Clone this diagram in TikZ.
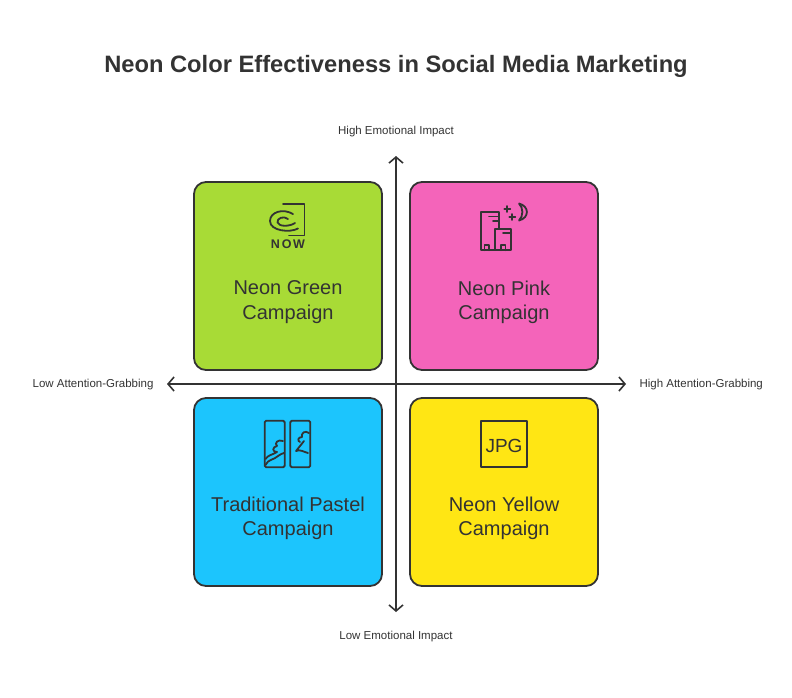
\documentclass[tikz,border=0pt]{standalone}
\usepackage{fontspec}
\setmainfont{Liberation Sans}
\usepackage{tikz}
\usetikzlibrary{positioning}
\usetikzlibrary{arrows.meta}
\definecolor{linec}{HTML}{333333}
\definecolor{textc}{HTML}{333333}
\definecolor{neongreen}{HTML}{A8DB36}
\definecolor{neonpink}{HTML}{F464BA}
\definecolor{pastelblue}{HTML}{1CC5FD}
\definecolor{neonyellow}{HTML}{FFE614}

\begin{document}
\begin{tikzpicture}[x=1pt,y=-1pt,
    quad/.style={draw=linec, line width=1.8pt, rounded corners=12pt, minimum width=188pt, minimum height=188pt},
    lbl/.style={font=\fontsize{20}{24.3}\selectfont, text=textc, align=center},
    axlbl/.style={font=\fontsize{11.5}{13}\selectfont, text=textc},
    icon/.style={draw=linec, line width=1.8pt, line cap=round, line join=round},
    axis/.style={draw=linec, line width=1.6pt, {Straight Barb[length=6pt,width=14pt]}-{Straight Barb[length=6pt,width=14pt]}}]
        \useasboundingbox (0,0) rectangle (792,697);
        % title
        \node[font=\bfseries\fontsize{23.7}{26}\selectfont, text=textc, anchor=base] (title) at (396,72) {Neon Color Effectiveness in Social Media Marketing};
        % quadrants
        \node[quad, fill=neongreen] (green) at (288,276) {};
        \node[quad, fill=neonpink] (pink) at (504,276) {};
        \node[quad, fill=pastelblue] (pastel) at (288,492) {};
        \node[quad, fill=neonyellow] (yellow) at (504,492) {};
        \node[lbl] (greenlbl) at (288,302) {Neon Green\\Campaign};
        \node[lbl] (pinklbl) at (504,302) {Neon Pink\\Campaign};
        \node[lbl] (pastellbl) at (288,518) {Traditional Pastel\\Campaign};
        \node[lbl] (yellowlbl) at (504,518) {Neon Yellow\\Campaign};
        % axes
        \node[axlbl] (high) at (396,132) {High Emotional Impact};
        \node[axlbl] (low) at (396,637) {Low Emotional Impact};
        \node[axlbl, anchor=east] (left) at (157,385) {Low Attention-Grabbing};
        \node[axlbl, anchor=west] (right) at (636,385) {High Attention-Grabbing};
        \coordinate (ytop) at (396,156);
        \coordinate (ybot) at (396,612);
        \coordinate (xleft) at (167,384);
        \coordinate (xright) at (626,384);
        \draw[axis] (ybot) -- (ytop);
        \draw[axis] (xleft) -- (xright);
        % icon: now
        \draw[icon] (283,204) -- (304.5,204) -- (304.5,235.5) -- (289,235.5);
        \draw[icon] (293,214) .. controls (283,208) and (270,212) .. (270,221) .. controls (270,231) and (290,233) .. (298,228.5);
        \draw[icon] (288,219) .. controls (284,215.5) and (276.5,218) .. (277.5,222.5) .. controls (279,227) and (290,226.5) .. (295,223);
        \node[font=\bfseries\fontsize{12.5}{13}\selectfont\addfontfeature{LetterSpace=14}, text=textc] (now) at (288,244.5) {NOW};
        % icon: city
        \draw[icon] (499,250.3) -- (481.3,250.3) -- (481.3,212.3) -- (499,212.3) -- (499,228.7);
        \draw[icon] (489,216.5) -- (499,216.5) (493,220.7) -- (499,220.7);
        \draw[icon] (494.7,250.3) rectangle (511.3,228.7);
        \draw[icon] (503,233) -- (511.3,233);
        \draw[icon] (484.5,250.3) -- (484.5,245) -- (489,245) -- (489,250.3);
        \draw[icon] (501,250.3) -- (501,245) -- (505.5,245) -- (505.5,250.3);
        \draw[icon] (504.3,209) -- (510.3,209) (507.3,206) -- (507.3,212);
        \draw[icon] (509.3,217) -- (515.3,217) (512.3,214) -- (512.3,220);
        \draw[icon] (519,203.5) .. controls (529.5,206) and (529.5,218) .. (519,220.5) .. controls (523.5,216) and (523.5,208) .. cycle;
        % icon: panels
        \draw[icon, rounded corners=1.5pt] (264.7,420.7) rectangle (284.7,467.3);
        \draw[icon, rounded corners=1.5pt] (290.3,420.7) rectangle (310.3,467.3);
        \draw[icon] (283,441) .. controls (278,439) and (274,443) .. (277,446) .. controls (272,447) and (272,452) .. (277,452) .. controls (272,455) and (268,455) .. (265.5,459);
        \draw[icon] (265.5,465) .. controls (268,459) and (274,460) .. (278,456) .. controls (280,454) and (282,454) .. (284,453);
        \draw[icon] (309,433) .. controls (305,430) and (301,433) .. (302,437) .. controls (298,437) and (297,441) .. (300,442);
        \draw[icon] (304,441) -- (296,451) .. controls (300,449) and (304,452) .. (308,453);
        % icon: jpg
        \draw[icon] (480.7,420.7) rectangle (527.3,466.7);
        \node[font=\fontsize{19}{20}\selectfont, text=textc] (jpg) at (504,446) {JPG};
\end{tikzpicture}
\end{document}
